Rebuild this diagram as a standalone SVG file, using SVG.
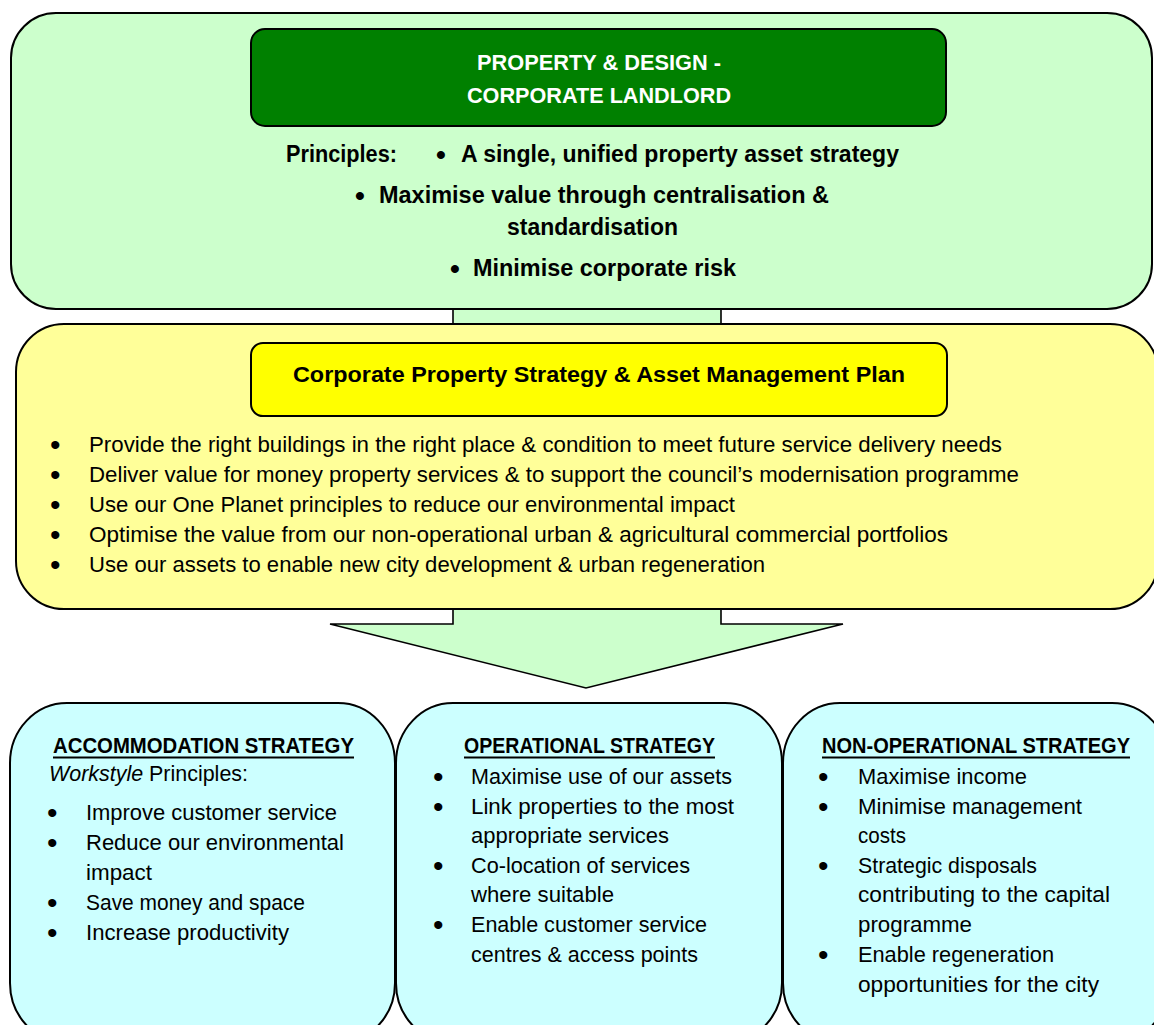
<svg xmlns="http://www.w3.org/2000/svg" width="1154" height="1025" viewBox="0 0 1154 1025">
<style>
  text { font-family: "Liberation Sans", Arial, sans-serif; fill: #000; }
  .b { font-weight: bold; }
  .w { fill: #fff; }
  .tb { font-size: 23px; font-weight: bold; }
  .bul { font-size: 30px; }
  .bulb { font-size: 28px; font-weight: bold; }
  .box { stroke: #000; stroke-width: 2; }
  .green { fill: #ccffcc; }
  .yel { fill: #ffff99; }
  .cyan { fill: #ccffff; }
  .ul { stroke: #000; stroke-width: 2; }
</style>
<rect x="0" y="0" width="1154" height="1025" fill="#fff"/>

<g id="connectors">
  <path d="M453,300 L721,300 L721,624 L843,624 L586,688 L330,624 L453,624 Z" fill="#ccffcc" stroke="#000" stroke-width="1.6" stroke-linejoin="miter"/>
</g>

<g id="node-corporate-landlord">
  <rect class="box green" x="11" y="13" width="1141" height="296" rx="45" ry="45"/>
  <rect class="box" x="251" y="29" width="695" height="97" rx="14" ry="14" fill="#008000"/>
  <text class="w b" x="599" y="70" font-size="22" text-anchor="middle" textLength="244" lengthAdjust="spacingAndGlyphs">PROPERTY &amp; DESIGN -</text>
  <text class="w b" x="599" y="103" font-size="22" text-anchor="middle" textLength="264" lengthAdjust="spacingAndGlyphs">CORPORATE LANDLORD</text>
  <text class="tb" x="286" y="162" textLength="111" lengthAdjust="spacingAndGlyphs">Principles:</text>
  <text class="bulb" x="436" y="164">•</text>
  <text class="tb" x="461" y="162" textLength="438" lengthAdjust="spacingAndGlyphs">A single, unified property asset strategy</text>
  <text class="bulb" x="355" y="205">•</text>
  <text class="tb" x="379" y="203" textLength="450" lengthAdjust="spacingAndGlyphs">Maximise value through centralisation &amp;</text>
  <text class="tb" x="507" y="235" textLength="171" lengthAdjust="spacingAndGlyphs">standardisation</text>
  <text class="bulb" x="450" y="278">•</text>
  <text class="tb" x="473" y="276" textLength="263" lengthAdjust="spacingAndGlyphs">Minimise corporate risk</text>
</g>

<g id="node-property-strategy">
  <rect class="box yel" x="16" y="324" width="1142" height="285" rx="48" ry="48"/>
  <rect class="box" x="251" y="343" width="696" height="73" rx="12" ry="12" fill="#ffff00"/>
  <text class="b" x="599" y="382" font-size="22" text-anchor="middle" textLength="612" lengthAdjust="spacingAndGlyphs">Corporate Property Strategy &amp; Asset Management Plan</text>
  <text class="bul" x="50" y="455">•</text>
  <text x="89" y="452" font-size="22" textLength="913" lengthAdjust="spacingAndGlyphs">Provide the right buildings in the right place &amp; condition to meet future service delivery needs</text>
  <text class="bul" x="50" y="485">•</text>
  <text x="89" y="482" font-size="22" textLength="930" lengthAdjust="spacingAndGlyphs">Deliver value for money property services &amp; to support the council’s modernisation programme</text>
  <text class="bul" x="50" y="515">•</text>
  <text x="89" y="512" font-size="22" textLength="646" lengthAdjust="spacingAndGlyphs">Use our One Planet principles to reduce our environmental impact</text>
  <text class="bul" x="50" y="545">•</text>
  <text x="89" y="542" font-size="22" textLength="859" lengthAdjust="spacingAndGlyphs">Optimise the value from our non-operational urban &amp; agricultural commercial portfolios</text>
  <text class="bul" x="50" y="575">•</text>
  <text x="89" y="572" font-size="22" textLength="676" lengthAdjust="spacingAndGlyphs">Use our assets to enable new city development &amp; urban regeneration</text>
</g>

<g id="node-accommodation">
  <rect class="box cyan" x="10" y="703" width="385" height="340" rx="57" ry="60"/>
  <text class="b" x="53" y="753" font-size="22" textLength="301" lengthAdjust="spacingAndGlyphs">ACCOMMODATION STRATEGY</text>
  <line class="ul" x1="53" y1="757.5" x2="354" y2="757.5"/>
  <text x="49" y="781" font-size="22" textLength="199" lengthAdjust="spacingAndGlyphs"><tspan font-style="italic">Workstyle</tspan> Principles:</text>
  <text class="bul" x="47" y="823">•</text>
  <text x="86" y="820" font-size="22" textLength="251" lengthAdjust="spacingAndGlyphs">Improve customer service</text>
  <text class="bul" x="47" y="853">•</text>
  <text x="86" y="850" font-size="22" textLength="258" lengthAdjust="spacingAndGlyphs">Reduce our environmental</text>
  <text x="86" y="880" font-size="22" textLength="66" lengthAdjust="spacingAndGlyphs">impact</text>
  <text class="bul" x="47" y="913">•</text>
  <text x="86" y="910" font-size="22" textLength="219" lengthAdjust="spacingAndGlyphs">Save money and space</text>
  <text class="bul" x="47" y="943">•</text>
  <text x="86" y="940" font-size="22" textLength="203" lengthAdjust="spacingAndGlyphs">Increase productivity</text>
</g>

<g id="node-operational">
  <rect class="box cyan" x="396" y="703" width="386" height="340" rx="57" ry="60"/>
  <text class="b" x="464" y="753" font-size="22" textLength="251" lengthAdjust="spacingAndGlyphs">OPERATIONAL STRATEGY</text>
  <line class="ul" x1="464" y1="757.5" x2="715" y2="757.5"/>
  <text class="bul" x="433" y="787">•</text>
  <text x="471" y="784" font-size="22" textLength="261" lengthAdjust="spacingAndGlyphs">Maximise use of our assets</text>
  <text class="bul" x="433" y="817">•</text>
  <text x="471" y="814" font-size="22" textLength="263" lengthAdjust="spacingAndGlyphs">Link properties to the most</text>
  <text x="471" y="843" font-size="22" textLength="198" lengthAdjust="spacingAndGlyphs">appropriate services</text>
  <text class="bul" x="433" y="876">•</text>
  <text x="471" y="873" font-size="22" textLength="219" lengthAdjust="spacingAndGlyphs">Co-location of services</text>
  <text x="471" y="902" font-size="22" textLength="143" lengthAdjust="spacingAndGlyphs">where suitable</text>
  <text class="bul" x="433" y="935">•</text>
  <text x="471" y="932" font-size="22" textLength="236" lengthAdjust="spacingAndGlyphs">Enable customer service</text>
  <text x="471" y="962" font-size="22" textLength="227" lengthAdjust="spacingAndGlyphs">centres &amp; access points</text>
</g>

<g id="node-non-operational">
  <rect class="box cyan" x="783" y="703" width="386" height="340" rx="57" ry="60"/>
  <text class="b" x="822" y="753" font-size="22" textLength="308" lengthAdjust="spacingAndGlyphs">NON-OPERATIONAL STRATEGY</text>
  <line class="ul" x1="822" y1="757.5" x2="1130" y2="757.5"/>
  <text class="bul" x="818" y="787">•</text>
  <text x="858" y="784" font-size="22" textLength="169" lengthAdjust="spacingAndGlyphs">Maximise income</text>
  <text class="bul" x="818" y="817">•</text>
  <text x="858" y="814" font-size="22" textLength="224" lengthAdjust="spacingAndGlyphs">Minimise management</text>
  <text x="858" y="843" font-size="22" textLength="48" lengthAdjust="spacingAndGlyphs">costs</text>
  <text class="bul" x="818" y="876">•</text>
  <text x="858" y="873" font-size="22" textLength="179" lengthAdjust="spacingAndGlyphs">Strategic disposals</text>
  <text x="858" y="902" font-size="22" textLength="252" lengthAdjust="spacingAndGlyphs">contributing to the capital</text>
  <text x="858" y="932" font-size="22" textLength="114" lengthAdjust="spacingAndGlyphs">programme</text>
  <text class="bul" x="818" y="965">•</text>
  <text x="858" y="962" font-size="22" textLength="196" lengthAdjust="spacingAndGlyphs">Enable regeneration</text>
  <text x="858" y="992" font-size="22" textLength="241" lengthAdjust="spacingAndGlyphs">opportunities for the city</text>
</g>
</svg>
